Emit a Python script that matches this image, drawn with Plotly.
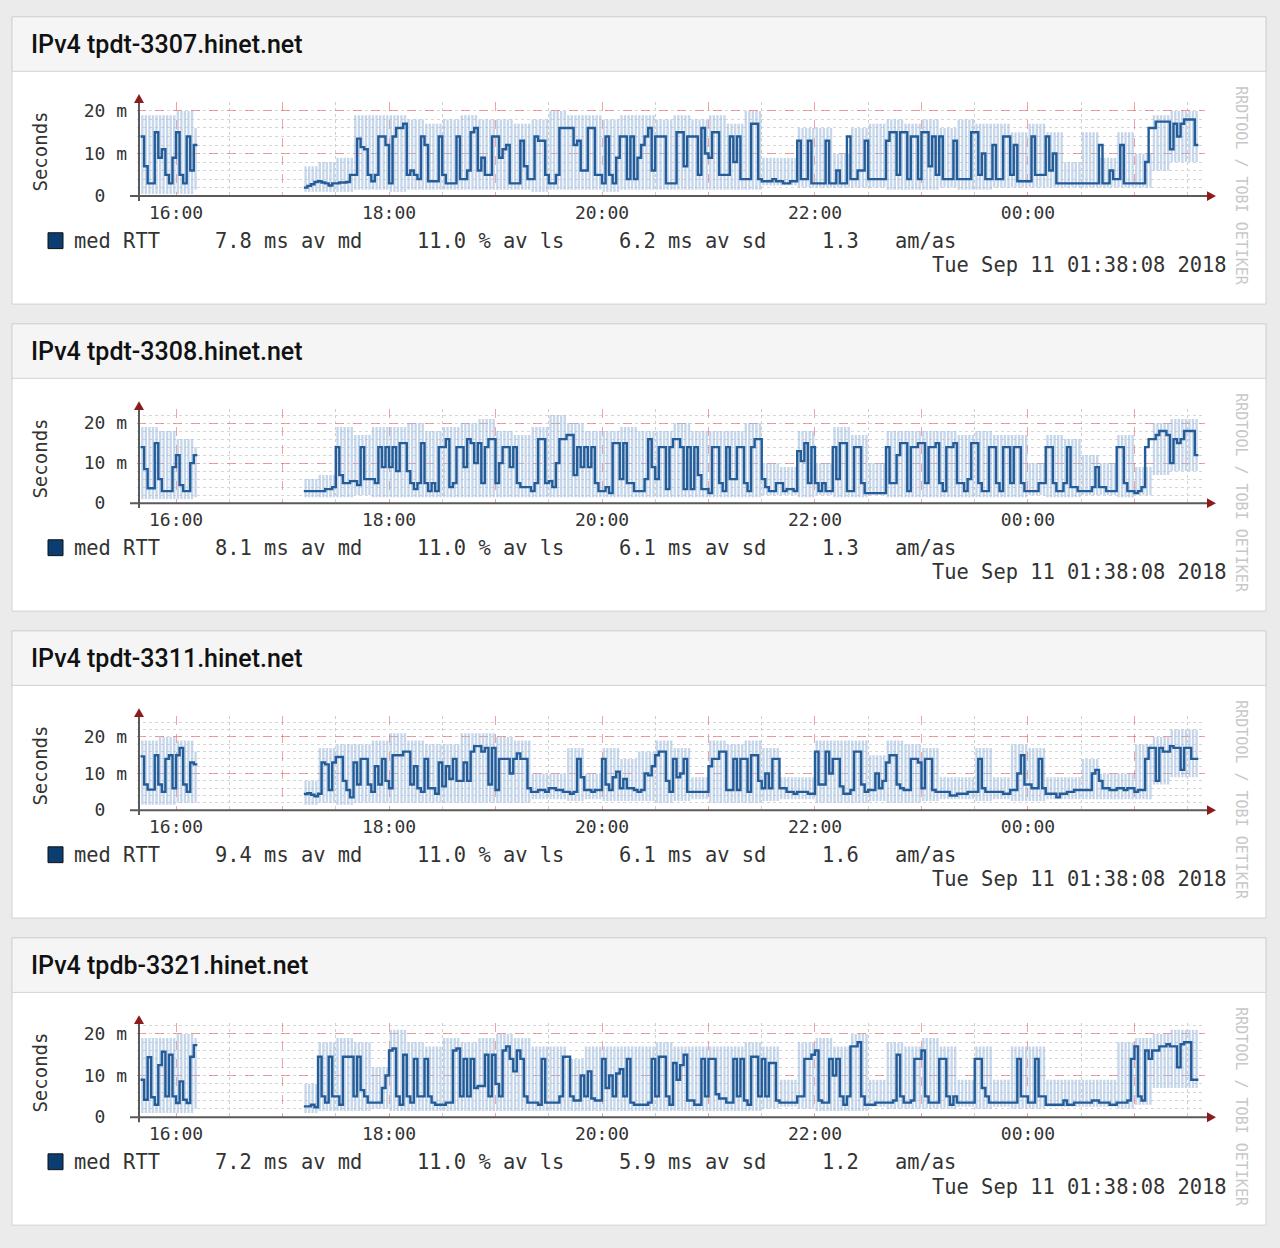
import pandas as pd
import plotly.graph_objects as go

N = None

hosts = ["tpdt-3307.hinet.net", "tpdt-3308.hinet.net", "tpdt-3311.hinet.net", "tpdb-3321.hinet.net"]
av_md = ["7.8", "8.1", "9.4", "7.2"]
av_ls = ["11.0", "11.0", "11.0", "11.0"]
av_sd = ["6.2", "6.1", "6.1", "5.9"]
am_as = ["1.3", "1.3", "1.6", "1.2"]
stamp = "Tue Sep 11 01:38:08 2018"

# median RTT (ms), one value per 2 minutes starting 15:30, one row per half hour
p1_rtt = [
    N, N, N, N, N, 14, 7, 3, 3, 15, 9, 11, 5, 3, 9,
    15, 5, 3, 14, 6, 12, N, N, N, N, N, N, N, N, N,
    N, N, N, N, N, N, N, N, N, N, N, N, N, N, N,
    N, N, N, N, N, N, 2.0, 2.4, 2.8, 3.3, 3.5, 3.2, 3.0, 2.5, 3.0,
    3.0, 3.2, 3.2, 3.3, 5, 5, 13.5, 11.5, 11, 5, 3.5, 5, 14, 14, 12,
    3, 14, 16, 16, 17, 5, 6, 5, 4, 14, 12, 3.5, 3.5, 3.5, 14,
    5, 3, 3, 3, 14, 4, 4, 6, 15, 16, 6, 9, 5, 5, 14,
    14, 9, 11, 12, 3, 3, 3, 13, 7, 4, 4, 14, 13, 13, 5,
    3, 3, 5, 16, 16, 16, 16, 12, 13, 6, 6, 16, 16, 5, 5,
    3, 14, 5, 3, 9, 14, 14, 4, 14, 4, 9, 12, 14, 16, 6,
    14, 14, 14, 3, 3, 3, 15, 15, 7, 14, 14, 14, 5, 16, 10,
    9, 15, 15, 5, 5, 5, 14, 8, 14, 4, 4, 4, 17, 17, 4,
    3.5, 3.5, 3.5, 4, 3.5, 3.5, 3, 3, 3.5, 3.5, 13, 4, 4, 13, 3,
    3, 3, 3, 13, 3, 3, 6, 3, 3, 14, 4, 4, 6, 6, 13,
    4, 4, 4, 4, 4, 13, 15, 15, 5, 15, 15, 4, 14, 14, 4,
    15, 15, 7, 14, 5, 14, 4, 4, 4, 13, 4, 4, 4, 4, 15,
    15, 5, 10, 4, 4, 12, 4, 4, 14, 14, 5, 12, 3.5, 3.5, 3.5,
    3.5, 14, 5, 5, 5, 14, 6, 10, 3, 3, 3, 3, 3, 3, 3,
    3, 3, 3, 3, 3, 12, 3, 3, 6, 4, 4, 12, 3, 3, 3,
    3, 3, 3, 8, 16, 16, 17.5, 17.5, 17.5, 17.5, 11, 17, 14, 17, 18,
    18, 18, 12, N, N, N, N, N, N, N, N, N, N, N, N,
]
p2_rtt = [
    N, N, N, N, N, 14, 8.5, 3.7, 3.7, 15, 6, 3, 3, 3, 9,
    12, 4.5, 3, 3, 10, 12, N, N, N, N, N, N, N, N, N,
    N, N, N, N, N, N, N, N, N, N, N, N, N, N, N,
    N, N, N, N, N, N, 3, 3, 3, 3, 3, 3, 3.5, 3.5, 4,
    14, 7, 5, 5, 5.5, 5.5, 4.5, 14, 6, 6, 6, 5, 14, 9, 14,
    9, 14, 8, 15, 15, 8, 5, 3.5, 5, 15, 5, 3, 5, 3, 14,
    14, 16, 4, 5, 14, 14, 9, 16, 15, 10, 15, 5, 14, 16, 16,
    5, 10, 14, 14, 9, 14, 5, 4, 4, 4, 3, 5, 16, 16, 5,
    5.5, 4, 10, 16, 16, 17, 17, 7, 14, 9, 14, 9, 14, 5, 3,
    3, 4, 2.5, 15, 15, 6, 15, 5, 5, 3, 3, 3, 6, 16, 9,
    6, 14, 14, 3.5, 14, 16, 16, 14, 3.5, 14, 3.5, 14, 7, 3.5, 3.5,
    2.5, 14, 14, 5, 3, 14, 6, 6, 14, 14, 5, 3, 14, 16, 16,
    6, 4, 3, 3, 5, 5, 3, 3.5, 3.5, 3, 13, 10.5, 15, 5, 14,
    5, 3, 5, 3, 3, 14, 6, 15, 15, 3, 3, 14, 14, 5, 2.5,
    2.5, 2.5, 2.5, 2.5, 2.5, 14, 5, 5, 12, 15, 15, 3, 14, 14, 15,
    15, 5, 14, 14, 15, 5, 3, 14, 14, 15, 5, 5, 3, 6, 15,
    15, 5, 3, 3, 14, 14, 5, 3, 14, 14, 5, 14, 14, 5, 3,
    3, 3, 3, 5, 5, 14, 14, 5, 3, 3, 5, 14, 4, 4, 3,
    3, 3, 3, 4, 9, 4, 4, 3, 3, 3, 14, 14, 5, 3, 3,
    2.5, 3, 4, 14, 16, 16, 17, 18, 18, 17, 10, 16, 15, 16, 18,
    18, 18, 12, N, N, N, N, N, N, N, N, N, N, N, N,
]
p3_rtt = [
    N, N, N, N, N, 14.7, 7, 5.6, 5.6, 15, 7, 5, 14, 15, 6,
    15, 17, 7, 5, 13, 12.5, N, N, N, N, N, N, N, N, N,
    N, N, N, N, N, N, N, N, N, N, N, N, N, N, N,
    N, N, N, N, N, N, 4.4, 4.6, 4.2, 3.8, 4.5, 13, 12.5, 5.5, 13,
    14.5, 14.5, 8, 5.5, 3.5, 13, 7, 14, 14, 7, 5, 12, 7, 14, 8,
    6, 15, 15, 15, 16, 16, 7, 12, 6, 5, 14, 6, 6, 4.5, 13,
    6.5, 12, 8.5, 14, 8, 8, 13, 8, 16, 17.5, 17.5, 16, 17, 7, 17,
    5.5, 14, 14, 14, 10, 14, 15.5, 14, 14, 6, 5, 5, 5.5, 5.5, 5,
    6, 6, 5.5, 5.5, 5, 5, 4.5, 5, 14, 9, 5.5, 5.5, 5, 5.5, 5.5,
    14, 7, 5.5, 9, 10.5, 6, 8.5, 6, 6, 5.5, 5, 5.5, 10, 9.5, 12,
    15, 16, 16, 8, 5, 14, 9, 10, 14, 5, 5, 5, 5, 5, 5,
    12, 14, 14, 16, 16, 5.5, 5.5, 14, 5.5, 14, 14, 5, 15, 15, 8,
    6, 10, 6, 14, 14, 6, 6, 5, 5, 4.5, 5, 5, 5, 4.5, 4.5,
    16, 7, 7, 16, 10, 14, 14, 6.5, 4.5, 4.5, 5.5, 16, 16, 7, 5,
    5.5, 5.5, 10, 6, 8, 13, 15, 15, 7, 6, 5.5, 5.5, 14, 14, 13,
    6, 14, 14, 5.5, 5, 5, 5, 5, 4, 4, 4.5, 4.5, 4.5, 5, 5,
    5, 14, 6, 5, 5, 5, 5, 5, 4.5, 4.5, 5.5, 5.5, 10, 15, 7,
    7, 6, 6, 14, 6, 4.5, 4.5, 4.5, 3.5, 4.5, 4.5, 5, 5, 5.5, 5.5,
    5.5, 5.5, 5.5, 10, 11, 8, 6, 6, 5.5, 5.5, 6, 6, 5.5, 6, 6,
    5, 5.5, 5.5, 14, 17, 17, 8, 17, 16, 16, 17.5, 17, 17, 11, 17,
    17, 14, 14, N, N, N, N, N, N, N, N, N, N, N, N,
]
p4_rtt = [
    N, N, N, N, N, 9, 4.2, 14.4, 4.8, 3, 12.5, 15.7, 5, 15, 5,
    3.4, 8.6, 4.2, 3.4, 14.5, 17.3, N, N, N, N, N, N, N, N, N,
    N, N, N, N, N, N, N, N, N, N, N, N, N, N, N,
    N, N, N, N, N, N, 2.6, 2.6, 3, 2.4, 14.5, 5, 3.5, 14.5, 5,
    5, 3, 14.5, 14.5, 14.5, 5, 14.5, 6.5, 5, 3.5, 3.5, 3.5, 3.5, 7, 10,
    16, 16.5, 5, 3, 15, 5, 3.5, 14, 5, 5, 14, 5, 3.5, 3, 3,
    3, 3.5, 3.5, 16, 16.5, 5, 14, 5, 14, 7, 7.5, 7.5, 15, 5, 15,
    8, 5, 16, 17, 14, 11, 16, 14, 5, 3.5, 3.5, 3.5, 3, 14, 3.5,
    3.5, 3.5, 3.5, 5, 14.5, 14.5, 5, 4, 4, 10, 5, 11, 4.5, 4, 4,
    14, 7, 10, 5, 10.5, 11.5, 5, 14, 3.5, 3, 3, 3, 3, 3.5, 14,
    5, 14.5, 14.5, 5, 3, 13, 9, 12.5, 15, 4, 4, 3, 3, 14, 5,
    14, 14, 5.5, 4.5, 4.5, 3.5, 3.5, 14, 5, 14, 4, 3, 14.5, 14.5, 5,
    14, 5, 13, 13, 4, 3.5, 3.5, 3.5, 3.5, 3.5, 5, 5, 14, 14, 15,
    16, 4, 3.5, 3.5, 14, 10, 14, 5, 3, 5, 17, 17, 18, 5, 3,
    3, 3, 3.5, 3.5, 3.5, 3.5, 3.5, 4, 15, 5, 3.5, 3.5, 4, 14, 14,
    16, 5, 3.5, 3.5, 3.5, 14, 14, 5, 3, 5, 3.5, 3.5, 3.5, 3.5, 3.5,
    14, 14, 7, 5, 3.5, 3.5, 3.5, 3.5, 3.5, 3.5, 3.5, 3.5, 14, 5, 5,
    3.5, 3.5, 14, 5, 5, 3, 3, 3, 3, 3, 4, 3, 3, 3.5, 3.5,
    3.5, 3.5, 3.5, 4, 4, 3.5, 3.5, 3.5, 3, 3, 3.5, 3.5, 3.5, 4, 14,
    17, 5, 4, 16, 14, 16, 16, 17, 17, 17.5, 17, 17, 12, 17.5, 18,
    18, 9, 9, N, N, N, N, N, N, N, N, N, N, N, N,
]

# smoke envelope (ms), one value per 10 minutes starting 15:30
p1_hi = [N, 19, 19, 20, 16, N, N, N, N, N, 7, 8, 9, 19, 19, 19, 18, 17, 18, 19, 18,
         18, 17, 18, 20, 19, 19, 18, 19, 19, 18, 19, 18, 19, 17, 20, 9, 9, 16, 16, 10, 16,
         17, 18, 17, 18, 16, 18, 17, 17, 15, 17, 15, 8, 15, 9, 15, 10, 19, 20, 20, N, N]
p1_lo = [N, .5, .5, .5, 1.5, N, N, N, N, N, 1, 1, 1, 1.5, 1.5, 1, 1.5, 1.5, 1.5, 1.5, 1.5,
         1.5, 1.5, 1, 1.5, 1.5, 1.5, 1, 1.5, 1.5, 1.5, 1.5, 1.5, 1.5, 1.5, 1.5, 2.5, 2.5, 2, 2, 2, 2,
         2, 1.5, 1.5, 1.5, 2, 1.5, 1.5, 2, 2, 2, 2, 2, 2, 2, 2, 2, 6, 8, 8, N, N]
p2_hi = [N, 19, 18, 16, 14, N, N, N, N, N, 6, 7, 19, 17, 19, 19, 20, 18, 19, 20, 21,
         18, 17, 19, 22, 20, 18, 18, 19, 18, 18, 20, 18, 18, 18, 20, 10, 9, 18, 10, 19, 17,
         10, 18, 18, 18, 18, 17, 18, 17, 17, 10, 17, 16, 12, 10, 17, 9, 20, 21, 21, N, N]
p2_lo = [N, 1, 1, 1, 1.5, N, N, N, N, N, 1.5, 1.5, 1.5, 2, 1.5, 1.5, 1.5, 1.5, 1.5, 1.5, 1.5,
         1.5, 1.5, 1.5, 1.5, 1.5, 1.5, 1.5, 1.5, 1.5, 1.5, 1.5, 1.5, 1.5, 1.5, 1.5, 2, 2, 1.5, 2, 1.5, 1.5,
         2, 1.5, 1.5, 1.5, 1.5, 1.5, 1.5, 1.5, 1.5, 2, 1.5, 1.5, 2, 2, 1.5, 2, 7, 8, 8, N, N]
p3_hi = [N, 19, 20, 19, 16, N, N, N, N, N, 8, 17, 18, 18, 19, 21, 19, 18, 18, 21, 21,
         20, 19, 10, 10, 17, 10, 17, 14, 16, 19, 17, 9, 19, 18, 19, 17, 9, 9, 19, 19, 19,
         15, 19, 18, 17, 9, 9, 17, 9, 18, 17, 9, 9, 14, 10, 10, 18, 20, 22, 22, N, N]
p3_lo = [N, 1.5, 1.5, 2, 2, N, N, N, N, N, 1.5, 2, 1.5, 2, 2, 2, 2, 2, 2, 2, 2,
         2, 2, 3, 3, 2.5, 3, 2.5, 2.5, 2.5, 2, 2.5, 3, 2, 2, 2, 2.5, 3, 3, 2, 2, 2,
         2.5, 2, 2, 2.5, 3, 3, 2.5, 3, 2.5, 2.5, 3, 3, 3, 3, 3, 3, 7, 9, 9, N, N]
p4_hi = [N, 19, 19, 20, 19, N, N, N, N, N, 8, 18, 19, 18, 12, 21, 18, 17, 19, 18, 19,
         20, 19, 17, 17, 14, 17, 17, 17, 17, 18, 17, 17, 17, 17, 18, 17, 9, 18, 19, 17, 20,
         9, 18, 17, 19, 17, 9, 17, 9, 17, 17, 9, 9, 9, 9, 18, 19, 20, 21, 21, N, N]
p4_lo = [N, 1, 1, 1, 2, N, N, N, N, N, 1, 1.5, 1.5, 1.5, 2, 1.5, 1.5, 1.5, 1.5, 1.5, 1.5,
         1.5, 1.5, 1.5, 1.5, 1.5, 1.5, 1.5, 1.5, 1.5, 1.5, 1.5, 1.5, 1.5, 1.5, 1.5, 2, 2.5, 2, 1.5, 1.5, 1.5,
         2.5, 2, 2, 2, 2, 2.5, 2, 2.5, 2, 2, 2.5, 2.5, 2.5, 2.5, 2, 3, 7, 7, 7, N, N]

rtts = [p1_rtt, p2_rtt, p3_rtt, p4_rtt]
his = [p1_hi, p2_hi, p3_hi, p4_hi]
los = [p1_lo, p2_lo, p3_lo, p4_lo]

W, H = 1280, 1248
PANEL = 310
y_top = [22.1, 23.5, 25.7, 22.6]
MONO = "DejaVu Sans Mono"


def fx(x):
    return x / W


def fy(y):
    return 1 - y / H


t0 = pd.Timestamp("2018-09-10 15:30")
step = pd.Timedelta(minutes=2)
hours = pd.date_range("2018-09-10 16:00", "2018-09-11 01:00", freq="1h")
halves = pd.date_range("2018-09-10 15:30", "2018-09-11 01:30", freq="1h")
hour_text = [h.strftime("%H:%M") if h.hour % 2 == 0 else "" for h in hours]

fig = go.Figure()
shapes = []
anns = []
layout = {}

for k in range(4):
    o = PANEL * k
    rtt, hi, lo = rtts[k], his[k], los[k]
    xa = "x" if k == 0 else f"x{k + 1}"
    ya = "y" if k == 0 else f"y{k + 1}"

    # smoke
    sx, sb, sh = [], [], []
    for i, v in enumerate(rtt):
        if v is None or hi[i // 5] is None:
            continue
        sx.append(t0 + i * step + step / 2)
        sb.append(lo[i // 5])
        sh.append(hi[i // 5] - lo[i // 5])
    fig.add_trace(go.Bar(x=sx, y=sh, base=sb, width=80000, xaxis=xa, yaxis=ya,
                         marker=dict(color="rgba(160,188,222,0.6)", line=dict(width=0)),
                         hoverinfo="skip", showlegend=False))

    # median line
    lx, ly = [], []
    for i, v in enumerate(rtt):
        if v is None:
            continue
        lx.append(t0 + i * step)
        ly.append(v)
        if i + 1 == len(rtt) or rtt[i + 1] is None:
            lx += [t0 + (i + 1) * step, None]
            ly += [v, None]
    fig.add_trace(go.Scatter(x=lx, y=ly, mode="lines", xaxis=xa, yaxis=ya,
                             line=dict(color="#245c98", width=2.4, shape="hv"),
                             hoverinfo="skip", showlegend=False))

    xkey = "xaxis" if k == 0 else f"xaxis{k + 1}"
    ykey = "yaxis" if k == 0 else f"yaxis{k + 1}"
    layout[xkey] = dict(
        domain=[fx(137), fx(1205)], anchor=ya,
        range=["2018-09-10 15:38:00", "2018-09-11 01:39:45"],
        tickmode="array", tickvals=list(hours), ticktext=hour_text,
        showgrid=True, gridcolor="rgba(232,100,100,0.6)", griddash="dash", gridwidth=1,
        minor=dict(tickmode="array", tickvals=list(halves), showgrid=True,
                   gridcolor="#cfcfcf", griddash="dot"),
        ticks="", ticklabelstandoff=4,
        tickfont=dict(family=MONO, size=18, color="#333"),
        showline=False, zeroline=False, fixedrange=True,
    )
    layout[ykey] = dict(
        domain=[fy(196 + o), fy(101 + o)], anchor=xa, range=[0, y_top[k]],
        tickmode="array", tickvals=[0, 10, 20],
        ticktext=["0\u00a0\u00a0", "10 m", "20 m"],
        showgrid=True, gridcolor="rgba(232,100,100,0.6)", griddash="dash",
        minor=dict(dtick=2, tick0=0, showgrid=True, gridcolor="#d6d6d6", griddash="dot"),
        ticks="", ticklabelstandoff=9,
        tickfont=dict(family=MONO, size=18, color="#333"),
        showline=False, zeroline=False, fixedrange=True,
    )

    # card and header
    shapes.append(dict(type="rect", xref="paper", yref="paper", layer="below",
                       x0=fx(12), x1=fx(1266), y0=fy(305 + o), y1=fy(15 + o),
                       fillcolor="white", line=dict(color="#d2d2d2", width=1)))
    shapes.append(dict(type="rect", xref="paper", yref="paper", layer="below",
                       x0=fx(12), x1=fx(1266), y0=fy(70 + o), y1=fy(15 + o),
                       fillcolor="#f5f5f5", line=dict(color="#d2d2d2", width=1)))

    # axes with arrows
    shapes.append(dict(type="line", xref="paper", yref="paper", layer="above",
                       x0=fx(130), x1=fx(1208), y0=fy(196 + o), y1=fy(196 + o),
                       line=dict(color="#5a5a5a", width=2)))
    shapes.append(dict(type="line", xref="paper", yref="paper", layer="above",
                       x0=fx(139), x1=fx(139), y0=fy(201 + o), y1=fy(99 + o),
                       line=dict(color="#5a5a5a", width=2)))
    shapes.append(dict(type="path", xref="paper", yref="paper", layer="above",
                       path=f"M {fx(1207)},{fy(191 + o)} L {fx(1216)},{fy(196 + o)} L {fx(1207)},{fy(201 + o)} Z",
                       fillcolor="#8e1b1b", line=dict(width=0)))
    shapes.append(dict(type="path", xref="paper", yref="paper", layer="above",
                       path=f"M {fx(134)},{fy(102 + o)} L {fx(139)},{fy(93 + o)} L {fx(144)},{fy(102 + o)} Z",
                       fillcolor="#8e1b1b", line=dict(width=0)))

    # legend box
    shapes.append(dict(type="rect", xref="paper", yref="paper",
                       x0=fx(48), x1=fx(63), y0=fy(249 + o), y1=fy(233 + o),
                       fillcolor="#0c3d70", line=dict(color="#111", width=1)))

    anns.append(dict(x=fx(29), y=fy(43 + o), xref="paper", yref="paper", xanchor="left",
                     yanchor="middle", showarrow=False, text="IPv4 " + hosts[k],
                     font=dict(family="Roboto", size=25, color="#111", weight=500)))
    anns.append(dict(x=fx(40), y=fy(151 + o), xref="paper", yref="paper", xanchor="center",
                     yanchor="middle", showarrow=False, text="Seconds", textangle=-90,
                     font=dict(family=MONO, size=19, color="#333")))
    anns.append(dict(x=fx(1241), y=fy(186 + o), xref="paper", yref="paper", xanchor="center",
                     yanchor="middle", showarrow=False, text="RRDTOOL / TOBI OETIKER",
                     textangle=90, font=dict(family=MONO, size=15, color="#c8c8c8")))
    legend_items = [(74, "med RTT"), (215, av_md[k] + " ms av md"), (417, av_ls[k] + " % av ls"),
                    (619, av_sd[k] + " ms av sd"), (822, am_as[k]), (895, "am/as")]
    for lx0, txt in legend_items:
        anns.append(dict(x=fx(lx0 - 2), y=fy(241 + o), xref="paper", yref="paper",
                         xanchor="left", yanchor="middle", showarrow=False, text=txt,
                         font=dict(family=MONO, size=20.4, color="#333")))
    anns.append(dict(x=fx(1229), y=fy(266 + o), xref="paper", yref="paper", xanchor="right",
                     yanchor="middle", showarrow=False, text=stamp,
                     font=dict(family=MONO, size=20.4, color="#333")))

fig.update_layout(
    width=W, height=H, autosize=False,
    margin=dict(l=0, r=0, t=0, b=0),
    paper_bgcolor="#ebebeb", plot_bgcolor="rgba(0,0,0,0)",
    barmode="overlay", showlegend=False,
    shapes=shapes, annotations=anns,
    **layout,
)

fig.write_html("out.html", config={"displayModeBar": False},
               post_script="document.body.style.margin='0';document.body.style.background='#ebebeb';")
